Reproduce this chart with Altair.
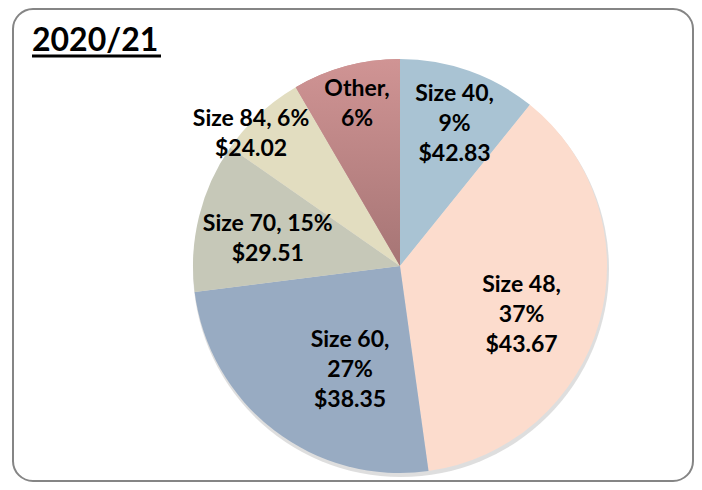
import altair as alt
import pandas as pd

# ---- data ----
sizes = ["Size 40", "Size 48", "Size 60", "Size 70", "Size 84", "Other"]
share = [10.8, 37.0, 25.2, 11.7, 6.9, 8.4]          # slice sizes as drawn
pct_text = ["9%", "37%", "27%", "15%", "6%", "6%"]
price_text = ["$42.83", "$43.67", "$38.35", "$29.51", "$24.02", ""]
title_text = "2020/21"

# ---- styling / layout ----
colors = ["#a9c3d3", "#fcdccd", "#98abc2", "#c6c8b8", "#e2ddc0", "#c48c8c"]
label_style = ["stack", "stack", "stack", "inline", "inline", "stack"]
label_radius = [152, 131, 115, 135, 199, 168]
label_shift_deg = [1.6, 6.4, -11.7, -2.3, -5.8, 0.3]

W, H = 686, 474
CX, CY, R = 392, 258, 207
FONT = "Lato"
LH = 30


def make_label(name, pct, price, style):
    lines = [f"{name}, {pct}"] if style == "inline" else [f"{name},", pct]
    if price:
        lines.append(price)
    return "\n".join(lines)


labels_txt = [make_label(n, p, pr, s) for n, p, pr, s in zip(sizes, pct_text, price_text, label_style)]

df = pd.DataFrame({
    "idx": list(range(len(sizes))),
    "slice": sizes,
    "share": share,
    "label": labels_txt,
    "nl": [t.count("\n") for t in labels_txt],
    "lr": label_radius,
    "shift": label_shift_deg,
})

base = (
    alt.Chart(df)
    .transform_joinaggregate(total="sum(share)")
    .transform_window(cum="sum(share)", sort=[alt.SortField("idx")], frame=[None, 0])
    .transform_calculate(
        t0="(datum.cum - datum.share) / datum.total * 2 * PI",
        t1="datum.cum / datum.total * 2 * PI",
    )
    .transform_calculate(tm="(datum.t0 + datum.t1) / 2 + datum.shift * PI / 180")
    .transform_calculate(
        px=f"{CX} + datum.lr * sin(datum.tm)",
        py=f"{CY} - datum.lr * cos(datum.tm) - datum.nl * {LH} / 2",
    )
)

frame_df = pd.DataFrame({"k": [0]})
frame = alt.Chart(frame_df).mark_rect(
    fill="white", stroke="#858585", strokeWidth=2, cornerRadius=20
).encode(x=alt.value(5), x2=alt.value(W - 1), y=alt.value(1), y2=alt.value(H - 1))

shadow = alt.Chart(frame_df).mark_arc(
    theta=0, theta2=6.2832, outerRadius=R + 1, color="#b5b5b5", opacity=0.45
).encode(x=alt.value(CX + 1), y=alt.value(CY + 3))

pie = base.mark_arc(outerRadius=R, strokeWidth=0).encode(
    theta=alt.Theta("t0:Q", scale=None),
    theta2="t1:Q",
    color=alt.Color("slice:N", scale=alt.Scale(domain=sizes, range=colors), legend=None),
    x=alt.value(CX),
    y=alt.value(CY),
)

other = base.transform_filter("datum.slice == 'Other'").mark_arc(
    outerRadius=R,
    strokeWidth=0,
    color=alt.LinearGradient(
        gradient="linear", x1=0, y1=0, x2=0, y2=1,
        stops=[alt.GradientStop(color="#d09494", offset=0),
               alt.GradientStop(color="#a67575", offset=1)],
    ),
).encode(
    theta=alt.Theta("t0:Q", scale=None),
    theta2="t1:Q",
    x=alt.value(CX),
    y=alt.value(CY),
)

labels = base.mark_text(
    font=FONT, fontSize=23, fontWeight="bold", color="black",
    lineBreak="\n", lineHeight=LH, align="center", baseline="middle",
).encode(
    x=alt.X("px:Q", scale=None),
    y=alt.Y("py:Q", scale=None),
    text="label:N",
)

title = alt.Chart(frame_df).mark_text(
    text=title_text, font=FONT, fontSize=32, fontWeight="bold", color="black",
    align="left", baseline="alphabetic",
).encode(x=alt.value(24), y=alt.value(43))

underline = alt.Chart(frame_df).mark_rule(color="black", strokeWidth=3).encode(
    x=alt.value(24), x2=alt.value(153), y=alt.value(48)
)

chart = (
    alt.layer(frame, shadow, pie, other, labels, title, underline)
    .properties(width=W, height=H, padding=0, autosize=alt.AutoSizeParams(type="none"))
    .configure_view(stroke=None)
)

chart.save("out.html", embed_options={"renderer": "svg", "actions": False})
